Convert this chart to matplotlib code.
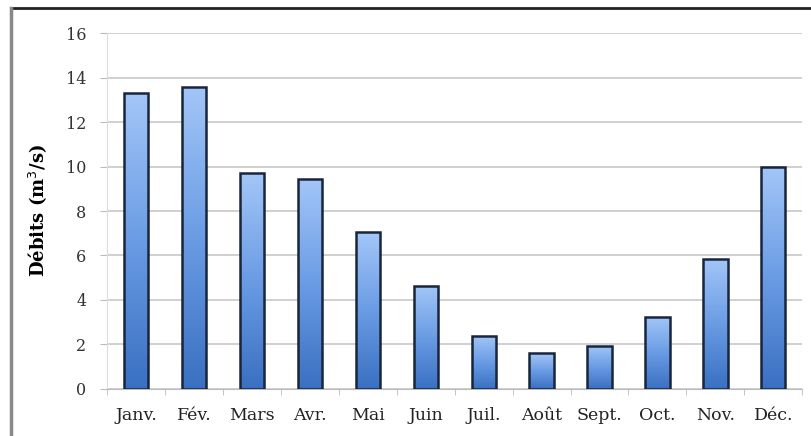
import numpy as np
import matplotlib.pyplot as plt
from matplotlib.colors import LinearSegmentedColormap
from matplotlib.lines import Line2D

months = ['Janv.', 'Fév.', 'Mars', 'Avr.', 'Mai', 'Juin', 'Juil.', 'Août', 'Sept.', 'Oct.', 'Nov.', 'Déc.']
debits = [13.3, 13.6, 9.7, 9.45, 7.05, 4.65, 2.4, 1.6, 1.95, 3.25, 5.85, 10.0]
yticks = [0, 2, 4, 6, 8, 10, 12, 14, 16]

fig = plt.figure(figsize=(8.12, 4.36), dpi=100)
ax = fig.add_axes([0.132, 0.108, 0.856, 0.816])

x = np.arange(len(months))
bars = ax.bar(x, debits, width=0.42, facecolor='none', edgecolor='#18253a', linewidth=1.8, zorder=3)

# vertical gradient inside each bar
cmap = LinearSegmentedColormap.from_list('blues', ['#3a70c2', '#6a9ce4', '#a3c6f8'])
grad = np.linspace(0, 1, 256).reshape(-1, 1)
for b in bars:
    x0, y0 = b.get_x(), b.get_y()
    w, h = b.get_width(), b.get_height()
    im = ax.imshow(grad, cmap=cmap, origin='lower', aspect='auto',
                   extent=[x0, x0 + w, y0, y0 + h], zorder=2)
    im.set_clip_path(b)

ax.set_xlim(-0.5, len(months) - 0.5)
ax.set_ylim(0, 16)
ax.set_yticks(yticks)
ax.set_xticks(x)
ax.set_xticklabels(months, fontfamily='DejaVu Serif', fontsize=12.5, color='#222222')
for lab in ax.get_yticklabels():
    lab.set_fontfamily('DejaVu Serif')
    lab.set_fontsize(11.5)
    lab.set_color('#333333')

ax.set_xticks(np.arange(-0.5, len(months)), minor=True)
ax.tick_params(axis='x', which='major', length=0, pad=13)
ax.tick_params(axis='x', which='minor', length=4, color='#bbbbbb')
ax.tick_params(axis='y', length=5, color='#bbbbbb', pad=10)

ax.grid(axis='y', color='#c8c8c8', linewidth=1.2, zorder=0)
for s in ['top', 'right']:
    ax.spines[s].set_visible(False)
ax.spines['left'].set_color('#dddddd')
ax.spines['bottom'].set_color('#bbbbbb')

ax.set_ylabel('Débits (m$^3$/s)', fontfamily='DejaVu Serif', fontweight='bold', fontsize=13, labelpad=12)

# outer frame (top and left edges)
fig.add_artist(Line2D([0.013, 1.0], [0.982, 0.982], transform=fig.transFigure, color='#222222', linewidth=2))
fig.add_artist(Line2D([0.013, 0.013], [0.0, 0.982], transform=fig.transFigure, color='#888888', linewidth=2.5))

fig.savefig('out.png', dpi=100)
